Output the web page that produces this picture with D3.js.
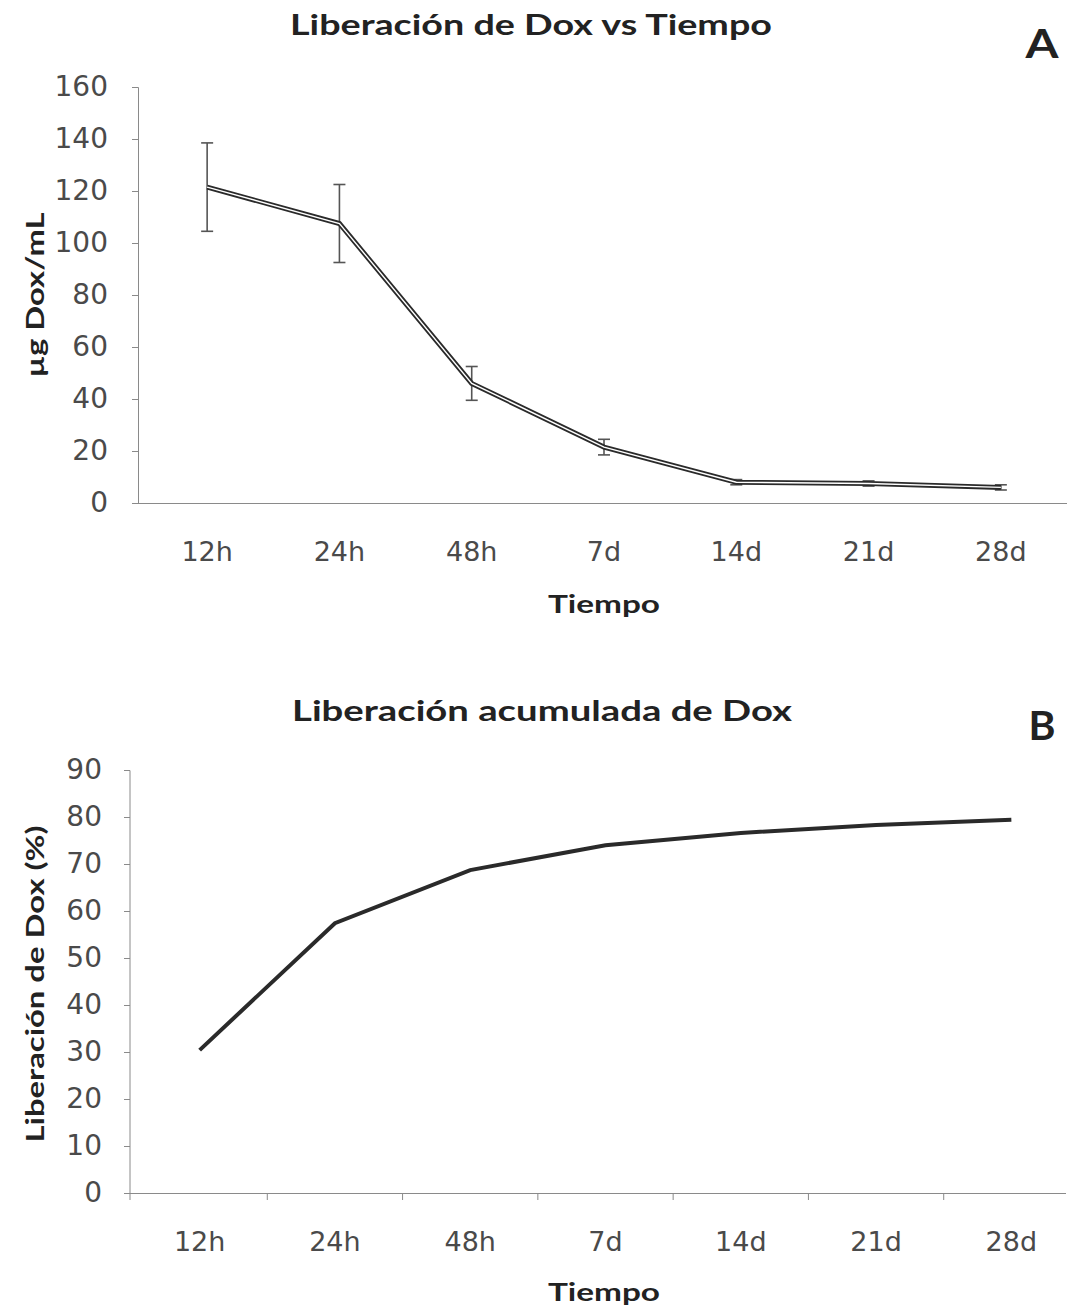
<!DOCTYPE html>
<html>
<head>
<meta charset="utf-8">
<script src="https://cdn.jsdelivr.net/npm/d3@7"></script>
<style>
  body { margin: 0; background: #fff; }
  text { font-family: Lato, "Open Sans", sans-serif; }
</style>
</head>
<body>
<svg id="chart" width="1073" height="1312"></svg>
<script>
const categories = ['12h', '24h', '48h', '7d', '14d', '21d', '28d'];
// panel A: released Dox concentration (µg/mL) with error bars
const doxConc = [121.5, 107.5, 46, 21.5, 8, 7.5, 6];
const doxErr = [17, 15, 6.5, 3, 1, 1, 1];
// panel B: cumulative release (%)
const doxCumul = [30.4, 57.4, 68.7, 74, 76.6, 78.3, 79.4];
const ticksA = [0, 20, 40, 60, 80, 100, 120, 140, 160];
const ticksB = [0, 10, 20, 30, 40, 50, 60, 70, 80, 90];

const svg = d3.select('#chart');
const axisColor = '#8a8a8a';
const tickColor = '#4a4a4a';
const tickFont = '"DejaVu Sans", sans-serif';

function boldText(x, y, size, len, label) {
  return svg.append('text')
    .attr('x', x).attr('y', y)
    .attr('text-anchor', 'middle')
    .attr('textLength', len)
    .attr('lengthAdjust', 'spacingAndGlyphs')
    .style('font-size', size + 'px').style('font-weight', 'bold').style('fill', '#222')
    .text(label);
}

// ---------- Panel A ----------
const xA = d3.scaleBand().domain(categories).range([141, 1067]);
const yA = d3.scaleLinear().domain([0, 160]).range([503, 87]);

boldText(531, 35, 28, 482, 'Liberación de Dox vs Tiempo');
boldText(1042, 58, 40, 33, 'A');

const gyA = svg.append('g')
  .attr('transform', 'translate(138,0)')
  .call(d3.axisLeft(yA).tickValues(ticksA).tickSize(6).tickPadding(24));
gyA.select('.domain').attr('stroke', axisColor);
gyA.selectAll('.tick line').attr('stroke', axisColor);
gyA.selectAll('.tick text').style('font-size', '28px').style('fill', tickColor)
  .style('font-family', tickFont);

const gxA = svg.append('g')
  .attr('transform', 'translate(0,503)')
  .call(d3.axisBottom(xA).tickSize(0).tickPadding(39));
gxA.select('.domain').attr('d', 'M138,0.5H1067').attr('stroke', axisColor);
gxA.selectAll('.tick text').style('font-size', '27px').style('fill', tickColor)
  .style('font-family', tickFont);

boldText(604, 613, 25, 112, 'Tiempo');

boldText(0, 0, 25, 165, 'µg Dox/mL')
  .attr('transform', 'translate(44,295) rotate(-90)');

const cx = d => xA(d) + xA.bandwidth() / 2;

// error bars
const errG = svg.append('g').attr('stroke', '#555').attr('stroke-width', 1.6);
categories.forEach((c, i) => {
  const top = yA(doxConc[i] + doxErr[i]);
  const bot = yA(doxConc[i] - doxErr[i]);
  errG.append('line').attr('x1', cx(c)).attr('x2', cx(c)).attr('y1', top).attr('y2', bot);
  errG.append('line').attr('x1', cx(c) - 6).attr('x2', cx(c) + 6).attr('y1', top).attr('y2', top);
  errG.append('line').attr('x1', cx(c) - 6).attr('x2', cx(c) + 6).attr('y1', bot).attr('y2', bot);
});

const lineA = d3.line()
  .x((d, i) => cx(categories[i]))
  .y(d => yA(d));

svg.append('path')
  .datum(doxConc)
  .attr('d', lineA)
  .attr('fill', 'none')
  .attr('stroke', '#2a2a2a')
  .attr('stroke-width', 5);
svg.append('path')
  .datum(doxConc)
  .attr('d', lineA)
  .attr('fill', 'none')
  .attr('stroke', '#fff')
  .attr('stroke-width', 1.4);

// ---------- Panel B ----------
const xB = d3.scaleBand().domain(categories).range([132, 1079]);
const yB = d3.scaleLinear().domain([0, 90]).range([1193, 770]);

boldText(542, 721, 28, 500, 'Liberación acumulada  de Dox');
boldText(1042, 740, 40, 27, 'B');

const gyB = svg.append('g')
  .attr('transform', 'translate(130,0)')
  .call(d3.axisLeft(yB).tickValues(ticksB).tickSize(6).tickPadding(22));
gyB.select('.domain').attr('d', 'M-6,770.5H0V1200').attr('stroke', axisColor);
gyB.selectAll('.tick line').attr('stroke', axisColor);
gyB.selectAll('.tick text').style('font-size', '28px').style('fill', tickColor)
  .style('font-family', tickFont);

const gxB = svg.append('g')
  .attr('transform', 'translate(0,1193)')
  .call(d3.axisBottom(xB).tickSize(0).tickPadding(39));
gxB.select('.domain').attr('d', 'M124,0.5H1066').attr('stroke', axisColor);
gxB.selectAll('.tick text').style('font-size', '27px').style('fill', tickColor)
  .style('font-family', tickFont);
// category boundary ticks
gxB.selectAll('.bound')
  .data(categories.slice(1))
  .enter().append('line')
  .attr('x1', d => xB(d)).attr('x2', d => xB(d))
  .attr('y1', 0).attr('y2', 7)
  .attr('stroke', axisColor);

boldText(604, 1301, 25, 112, 'Tiempo');

boldText(0, 0, 25, 317, 'Liberación de Dox (%)')
  .attr('transform', 'translate(44,984) rotate(-90)');

const lineB = d3.line()
  .x((d, i) => xB(categories[i]) + xB.bandwidth() / 2)
  .y(d => yB(d));

svg.append('path')
  .datum(doxCumul)
  .attr('d', lineB)
  .attr('fill', 'none')
  .attr('stroke', '#2a2a2a')
  .attr('stroke-width', 4);
</script>
</body>
</html>
